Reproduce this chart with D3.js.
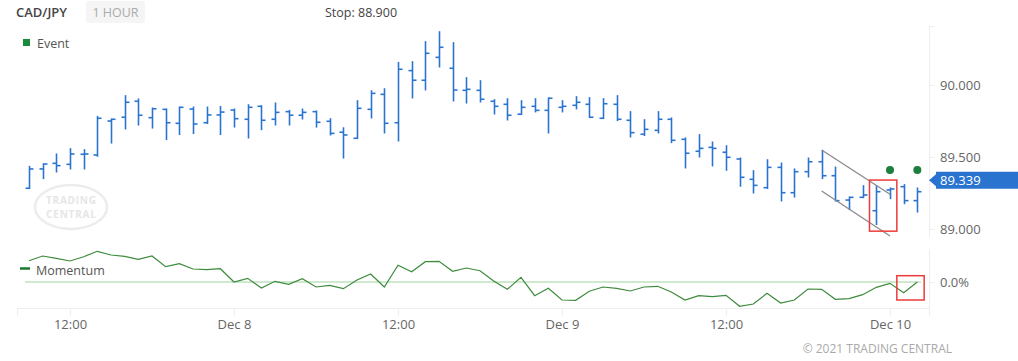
<!DOCTYPE html>
<html>
<head>
<meta charset="utf-8">
<script src="https://cdn.jsdelivr.net/npm/d3@7"></script>
<style>
  body { margin: 0; background: #fff; font-family: "Open Sans", sans-serif; }
  svg { display: block; }
</style>
</head>
<body>
<script>
// hourly bars, first one is Dec 7 09:00
const startHour = new Date(2021, 11, 7, 9);
const open = [89.283,89.417,89.456,89.449,89.519,89.514,89.750,89.776,89.887,89.773,
  89.831,89.734,89.833,89.738,89.792,89.826,89.762,89.852,89.762,89.815,
  89.790,89.815,89.748,89.672,89.630,89.831,89.935,89.738,90.100,90.033,
  90.192,90.116,89.963,89.963,89.887,89.866,89.797,89.852,89.824,89.845,
  89.859,89.866,89.769,89.866,89.755,89.658,89.685,89.762,89.623,89.540,
  89.567,89.533,89.486,89.345,89.287,89.428,89.252,89.398,89.467,89.370,
  89.201,89.220,89.127,89.271,89.294,89.197];
const high = [89.433,89.451,89.519,89.556,89.549,89.780,89.762,89.924,89.901,89.838,
  89.831,89.845,89.845,89.845,89.849,89.831,89.861,89.854,89.873,89.822,
  89.831,89.817,89.764,89.701,89.889,89.958,89.972,90.155,90.160,90.299,
  90.368,90.292,90.049,90.028,89.896,89.903,89.889,89.903,89.908,89.889,
  89.917,89.910,89.903,89.924,89.813,89.757,89.813,89.769,89.630,89.653,
  89.602,89.576,89.491,89.403,89.479,89.456,89.415,89.491,89.544,89.428,
  89.220,89.299,89.299,89.283,89.306,89.283];
const low = [89.283,89.352,89.398,89.419,89.419,89.507,89.599,89.697,89.724,89.703,
  89.623,89.658,89.665,89.734,89.658,89.710,89.634,89.692,89.724,89.724,
  89.766,89.710,89.655,89.495,89.630,89.773,89.669,89.613,89.912,89.968,
  90.127,89.891,89.877,89.884,89.801,89.759,89.797,89.815,89.669,89.815,
  89.836,89.776,89.769,89.755,89.641,89.651,89.669,89.602,89.426,89.502,
  89.440,89.410,89.299,89.252,89.283,89.197,89.224,89.363,89.352,89.197,
  89.137,89.220,89.033,89.213,89.178,89.120];
const close = [89.417,89.451,89.440,89.521,89.521,89.769,89.762,89.880,89.790,89.835,
  89.738,89.845,89.729,89.792,89.812,89.766,89.845,89.755,89.810,89.790,
  89.810,89.741,89.664,89.653,89.838,89.942,89.734,90.109,90.033,90.220,
  90.262,89.965,89.970,89.901,89.852,89.790,89.845,89.824,89.908,89.852,
  89.880,89.776,89.870,89.762,89.669,89.692,89.762,89.616,89.526,89.560,
  89.560,89.498,89.359,89.303,89.428,89.252,89.398,89.467,89.370,89.197,
  89.220,89.236,89.259,89.278,89.197,89.259];
const momentum = [0.213,0.26,0.237,0.21,0.253,0.307,0.27,0.257,0.227,0.26,
  0.153,0.183,0.13,0.123,0.133,0.0,0.037,-0.06,0.007,-0.023,
  0.033,-0.05,-0.033,-0.067,0.02,0.08,-0.05,0.167,0.103,0.203,
  0.207,0.107,0.14,0.113,0.01,-0.073,0.047,-0.137,-0.063,-0.18,
  -0.183,-0.093,-0.05,-0.063,-0.09,-0.05,-0.043,-0.10,-0.18,-0.137,
  -0.147,-0.133,-0.243,-0.22,-0.113,-0.21,-0.18,-0.07,-0.073,-0.173,
  -0.167,-0.127,-0.053,-0.013,-0.107,0.0];
const priceTicks = [89.0, 89.5, 90.0];
const timeTicks = [new Date(2021,11,7,12), new Date(2021,11,8), new Date(2021,11,8,12),
  new Date(2021,11,9), new Date(2021,11,9,12), new Date(2021,11,10)];
const eventBars = [63, 65];
const eventPrice = 89.41;
const lastPrice = 89.339;
const stopPrice = 88.900;
// channel: [start, end] in time / price
const channelTimes = [new Date(2021,11,9,19), new Date(2021,11,10,0)];
const channelUpper = [89.549, 89.241];
const channelLower = [89.264, 88.951];
// red boxes
const boxPrice = { bars: [62, 63], top: 89.34, bottom: 88.985 };
const boxMom = { bars: [64, 65], top: 0.063, bottom: -0.18 };

const W = 1018, H = 361;
const blue = "#2a74d0";
const hour = 3600 * 1000;
const times = open.map((d, i) => new Date(+startHour + i * hour));

const svg = d3.select("body").append("svg").attr("width", W).attr("height", H);

/*------------Scales---------------*/
const x = d3.scaleTime()
  .domain([new Date(2021,11,7), new Date(2021,11,10,12)])
  .range([-94, 1054]);
const y = d3.scaleLinear().domain([89, 90]).range([229, 85]);
const m = d3.scaleLinear().domain([-0.3, 0.3]).range([312, 252]);
const half = (x(times[1]) - x(times[0])) / 2;

/*------------Header---------------*/
svg.append("text").attr("x", 16).attr("y", 17)
  .style("font-size", "13px").style("font-weight", 600).attr("fill", "#444")
  .text("CAD/JPY");
svg.append("rect").attr("x", 86).attr("y", 1).attr("width", 59).attr("height", 22)
  .attr("rx", 2).attr("fill", "#f5f5f5");
svg.append("text").attr("x", 115.5).attr("y", 17).attr("text-anchor", "middle")
  .style("font-size", "12.5px").attr("fill", "#aaa").text("1 HOUR");
svg.append("text").attr("x", 325).attr("y", 17)
  .style("font-size", "12.5px").attr("fill", "#444")
  .text("Stop: " + d3.format(".3f")(stopPrice));
svg.append("rect").attr("x", 23).attr("y", 39).attr("width", 7).attr("height", 7)
  .attr("fill", "#1a8a3c");
svg.append("text").attr("x", 37).attr("y", 47.5)
  .style("font-size", "12.5px").attr("fill", "#555").text("Event");

/*------------Watermark---------------*/
const wm = svg.append("g").attr("transform", "translate(71,207)");
wm.append("ellipse").attr("rx", 36).attr("ry", 22).attr("fill", "none")
  .attr("stroke", "#ececec").attr("stroke-width", 2.5);
wm.append("text").attr("y", -3).attr("text-anchor", "middle")
  .style("font-size", "10px").style("font-weight", 700).attr("fill", "#e6e6e6")
  .attr("textLength", 50).text("TRADING");
wm.append("text").attr("y", 11).attr("text-anchor", "middle")
  .style("font-size", "10px").style("font-weight", 700).attr("fill", "#e6e6e6")
  .attr("textLength", 50).text("CENTRAL");

/*------------Right axes---------------*/
const axisCol = "#eeeeee";
svg.append("line").attr("x1", 929.5).attr("x2", 929.5).attr("y1", 26).attr("y2", 237)
  .attr("stroke", axisCol);
svg.append("line").attr("x1", 929.5).attr("x2", 935).attr("y1", 26.5).attr("y2", 26.5)
  .attr("stroke", axisCol);
svg.append("line").attr("x1", 929.5).attr("x2", 929.5).attr("y1", 249).attr("y2", 316)
  .attr("stroke", axisCol);

const yAxis = svg.append("g").attr("transform", "translate(929,0)")
  .call(d3.axisRight(y).tickValues(priceTicks).tickFormat(d3.format(".3f"))
    .tickSize(6).tickPadding(5));
yAxis.select(".domain").remove();
yAxis.selectAll("line").attr("stroke", axisCol);
yAxis.selectAll("text").attr("fill", "#666").style("font-size", "13px")
  .style("font-family", "Open Sans");

const mAxis = svg.append("g").attr("transform", "translate(929,0)")
  .call(d3.axisRight(m).tickValues([0]).tickFormat(d3.format(".1%"))
    .tickSize(6).tickPadding(5));
mAxis.select(".domain").remove();
mAxis.selectAll("line").attr("stroke", axisCol);
mAxis.selectAll("text").attr("fill", "#666").style("font-size", "13px")
  .style("font-family", "Open Sans")
  .text((d) => d3.format(".1f")(d * 100) + "%");

/*------------Bottom axis---------------*/
svg.append("line").attr("x1", 17).attr("x2", 929).attr("y1", 308.5).attr("y2", 308.5)
  .attr("stroke", axisCol);
const xAxis = svg.append("g").attr("transform", "translate(0,308)")
  .call(d3.axisBottom(x).tickValues(timeTicks)
    .tickFormat((d) => d.getHours() === 0 ? d3.timeFormat("%b %-d")(d) : d3.timeFormat("%H:%M")(d))
    .tickSize(8).tickPadding(4));
xAxis.select(".domain").remove();
xAxis.selectAll("line").attr("stroke", axisCol);
xAxis.selectAll("text").attr("fill", "#666").style("font-size", "13px")
  .style("font-family", "Open Sans");
svg.append("line").attr("x1", 17.5).attr("x2", 17.5).attr("y1", 308).attr("y2", 316)
  .attr("stroke", axisCol);

/*------------OHLC bars---------------*/
const bars = svg.append("g").attr("stroke", blue).attr("stroke-width", 1.6);
times.forEach((t, i) => {
  const cx = Math.round(x(t)) + 0.5;
  bars.append("line").attr("x1", cx).attr("x2", cx)
    .attr("y1", y(high[i]) - 0.8).attr("y2", y(low[i]) + 0.8);
  bars.append("line").attr("x1", cx - 4).attr("x2", cx)
    .attr("y1", y(open[i])).attr("y2", y(open[i]));
  bars.append("line").attr("x1", cx).attr("x2", cx + 4)
    .attr("y1", y(close[i])).attr("y2", y(close[i]));
});

/*------------Channel---------------*/
[channelUpper, channelLower].forEach((c) => {
  svg.append("line")
    .attr("x1", x(channelTimes[0])).attr("y1", y(c[0]))
    .attr("x2", x(channelTimes[1])).attr("y2", y(c[1]))
    .attr("stroke", "#8a8a8a").attr("stroke-width", 1.3);
});

/*------------Red boxes---------------*/
svg.append("rect")
  .attr("x", x(times[boxPrice.bars[0]]) - half)
  .attr("y", y(boxPrice.top))
  .attr("width", x(times[boxPrice.bars[1]]) - x(times[boxPrice.bars[0]]) + 2 * half)
  .attr("height", y(boxPrice.bottom) - y(boxPrice.top))
  .attr("fill", "none").attr("stroke", "#ee3a3a").attr("stroke-width", 1.5);

/*------------Events---------------*/
svg.selectAll("circle.event").data(eventBars).enter().append("circle")
  .attr("class", "event")
  .attr("cx", (d) => x(times[d])).attr("cy", y(eventPrice)).attr("r", 4)
  .attr("fill", "#1e7e3e");

/*------------Last price label---------------*/
const ly = y(lastPrice);
svg.append("path")
  .attr("d", `M929,${ly} L936,${ly - 6} L936,${ly - 8.5} L1018,${ly - 8.5} L1018,${ly + 8.5} L936,${ly + 8.5} L936,${ly + 6} Z`)
  .attr("fill", blue);
svg.append("text").attr("x", 940).attr("y", ly + 4.5)
  .style("font-size", "13px").attr("fill", "#fff").text(d3.format(".3f")(lastPrice));

/*------------Momentum---------------*/
svg.append("line").attr("x1", 25).attr("x2", 921).attr("y1", m(0)).attr("y2", m(0))
  .attr("stroke", "#9fd39f").attr("stroke-width", 1);
svg.append("path").datum(momentum)
  .attr("d", d3.line().x((d, i) => x(times[i])).y((d) => m(d)))
  .attr("fill", "none").attr("stroke", "#3d8b3d").attr("stroke-width", 1.2);
svg.append("rect")
  .attr("x", x(times[boxMom.bars[0]]) - half)
  .attr("y", m(boxMom.top))
  .attr("width", x(times[boxMom.bars[1]]) - x(times[boxMom.bars[0]]) + 2 * half)
  .attr("height", m(boxMom.bottom) - m(boxMom.top))
  .attr("fill", "none").attr("stroke", "#ee3a3a").attr("stroke-width", 1.5);
svg.append("line").attr("x1", 20).attr("x2", 30).attr("y1", 268.5).attr("y2", 268.5)
  .attr("stroke", "#1a7a2c").attr("stroke-width", 2.5);
svg.append("text").attr("x", 36).attr("y", 275)
  .style("font-size", "12.5px").attr("fill", "#555").text("Momentum");

/*------------Footer---------------*/
svg.append("text").attr("x", 952).attr("y", 353).attr("text-anchor", "end")
  .style("font-size", "12px").attr("fill", "#aaa").text("© 2021 TRADING CENTRAL");
</script>
</body>
</html>
